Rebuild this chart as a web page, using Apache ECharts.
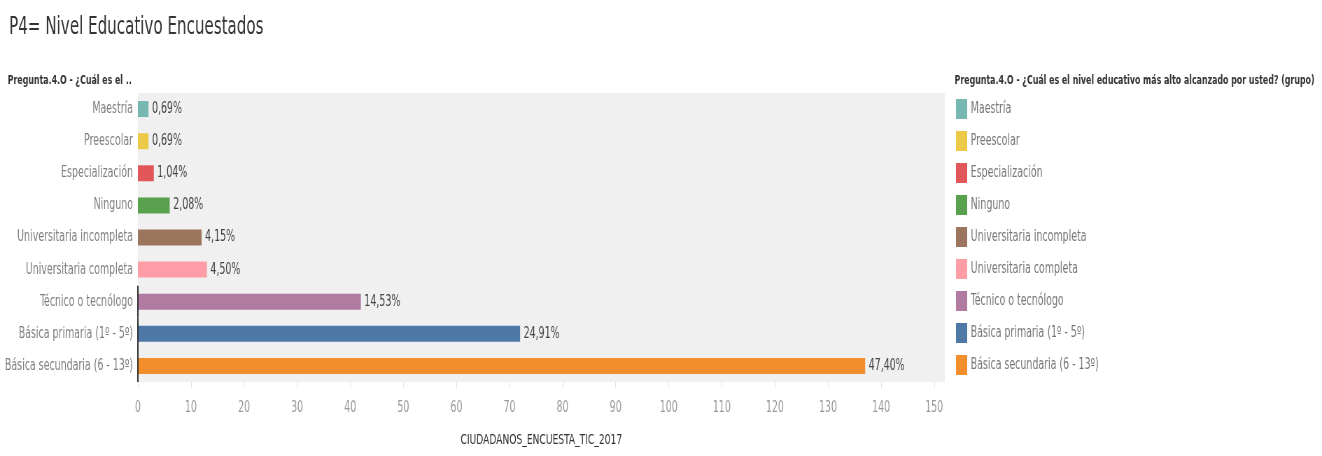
<!DOCTYPE html>
<html>
<head>
<meta charset="utf-8">
<title>P4= Nivel Educativo Encuestados</title>
<script src="https://cdn.jsdelivr.net/npm/echarts@6/dist/echarts.min.js"></script>
<style>
  html, body { margin: 0; padding: 0; background: #ffffff; overflow: hidden; }
  #frame { width: 1322px; height: 456px; overflow: hidden; position: relative; }
  /* the chart is laid out wide and squeezed horizontally so the text reads condensed */
  #chart { width: 1889px; height: 456px; transform: scaleX(0.69984); transform-origin: 0 0; }
</style>
</head>
<body>
<div id="frame"><div id="chart"></div></div>
<script>
// Nivel educativo más alto alcanzado (conteo de encuestados)
const categories = [
  'Maestría',
  'Preescolar',
  'Especialización',
  'Ninguno',
  'Universitaria incompleta',
  'Universitaria completa',
  'Técnico o tecnólogo',
  'Básica primaria (1º - 5º)',
  'Básica secundaria (6 - 13º)'
];
const counts = [2, 2, 3, 6, 12, 13, 42, 72, 137];
const colors = ['#76b7b2', '#edc948', '#e15759', '#59a14f', '#9c755f', '#ff9da7', '#b07aa1', '#4e79a7', '#f28e2b'];
const xTicks = [0, 10, 20, 30, 40, 50, 60, 70, 80, 90, 100, 110, 120, 130, 140, 150];
// rows that carry the dark zero reference line
const zeroLineCats = ['Técnico o tecnólogo', 'Básica primaria (1º - 5º)', 'Básica secundaria (6 - 13º)'];

const total = counts.reduce((a, b) => a + b, 0);
const FONT = "'DejaVu Sans Condensed', 'DejaVu Sans', sans-serif";

function pct(v) {
  return (v / total * 100).toFixed(2).replace('.', ',') + '%';
}

// one series per category so the legend lists every level with its colour
const series = categories.map((name, i) => ({
  name: name,
  type: 'bar',
  stack: 'nivel',
  barWidth: 16,
  itemStyle: { color: colors[i] },
  label: {
    show: true,
    position: 'right',
    distance: 5,
    color: '#444444',
    fontFamily: FONT,
    fontSize: 15,
    formatter: p => pct(p.value)
  },
  data: categories.map((c, j) => (j === i ? counts[i] : '-'))
}));

// zero line drawn across the full band of each listed row
series.push({
  name: 'cero',
  type: 'custom',
  z: 5,
  silent: true,
  renderItem: function (params, api) {
    const p = api.coord([api.value(0), api.value(1)]);
    const band = api.size([0, 1])[1];
    return {
      type: 'line',
      shape: { x1: p[0], y1: p[1] - band / 2, x2: p[0], y2: p[1] + band / 2 },
      style: { stroke: '#333333', lineWidth: 2 }
    };
  },
  data: zeroLineCats.map(c => [0, c])
});

const chart = echarts.init(document.getElementById('chart'), null, { renderer: 'canvas' });
chart.setOption({
  animation: false,
  backgroundColor: '#ffffff',
  textStyle: { fontFamily: FONT },
  title: [
    {
      text: 'P4= Nivel Educativo Encuestados',
      left: 13, top: 16, padding: 0,
      textStyle: { fontFamily: FONT, fontSize: 24, fontWeight: 'normal', color: '#333333' }
    },
    {
      text: 'Pregunta.4.O - ¿Cuál es el ..',
      left: 11, top: 74, padding: 0,
      textStyle: { fontFamily: FONT, fontSize: 12.5, fontWeight: 'bold', color: '#333333' }
    },
    {
      text: 'Pregunta.4.O - ¿Cuál es el nivel educativo más alto alcanzado por usted? (grupo)',
      left: 1364, top: 74, padding: 0,
      textStyle: { fontFamily: FONT, fontSize: 12.5, fontWeight: 'bold', color: '#333333' }
    }
  ],
  legend: {
    orient: 'vertical',
    left: 1366, top: 99,
    icon: 'rect',
    itemWidth: 16, itemHeight: 20, itemGap: 12,
    padding: 0,
    selectedMode: false,
    textStyle: { fontFamily: FONT, fontSize: 15, color: '#777777' },
    data: categories
  },
  grid: {
    left: 197, top: 93, width: 1153, height: 289,
    show: true, backgroundColor: '#f0f0f0', borderWidth: 0,
    outerBoundsMode: 'none',
    containLabel: false
  },
  xAxis: {
    type: 'value',
    min: 0, max: 152, interval: 10,
    name: 'CIUDADANOS_ENCUESTA_TIC_2017',
    nameLocation: 'middle',
    nameGap: 51,
    nameTextStyle: { fontFamily: FONT, fontSize: 14.5, color: '#333333' },
    axisLine: { show: false },
    axisTick: { show: true, length: 6, customValues: xTicks, lineStyle: { color: '#e2e2e2' } },
    axisLabel: { customValues: xTicks, color: '#999999', fontFamily: FONT, fontSize: 15, margin: 19 },
    splitLine: { show: false }
  },
  yAxis: {
    type: 'category',
    inverse: true,
    data: categories,
    axisLine: { show: false },
    axisTick: { show: false },
    axisLabel: { color: '#808080', fontFamily: FONT, fontSize: 15, margin: 7 }
  },
  series: series
});
</script>
</body>
</html>
